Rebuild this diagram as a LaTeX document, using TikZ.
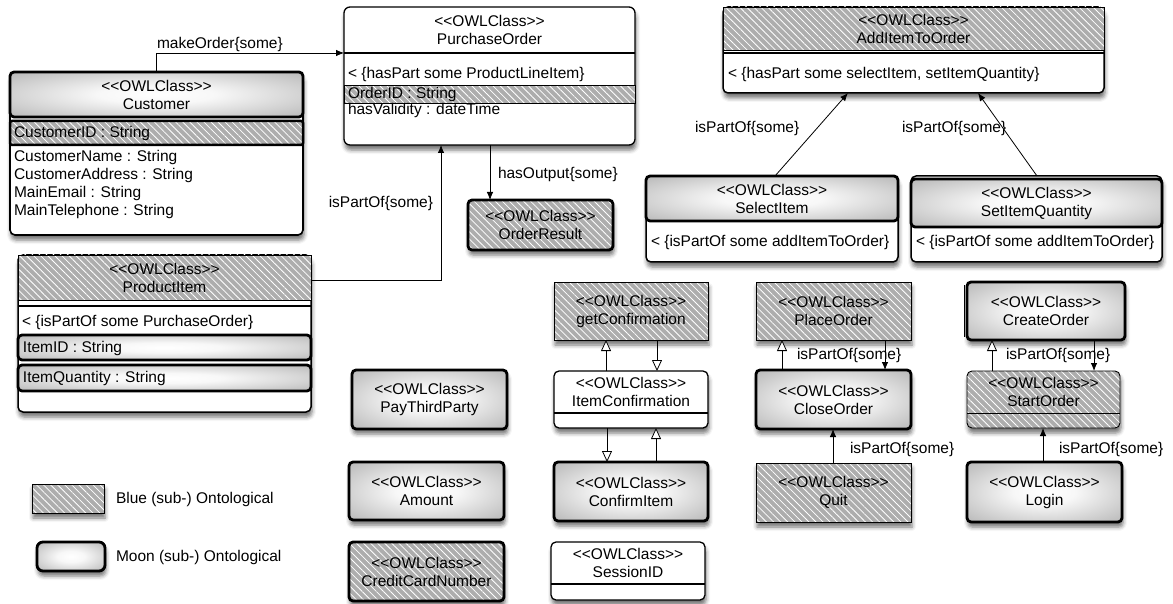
\documentclass[tikz,border=0pt]{standalone}
\usepackage{fontspec}
\setmainfont{Liberation Sans}
\usetikzlibrary{arrows.meta,patterns.meta,shadows.blur,calc}
\colorlet{hatchgray}{black!32}
\pgfdeclareradialshading{moonshade}{\pgfpoint{0bp}{0bp}}{color(0bp)=(white); color(10bp)=(white!97!black); color(50bp)=(black!42); color(75bp)=(black!50)}
\newcommand\owl{<{}<OWLClass>{}>}
\begin{document}
\begin{tikzpicture}[
 x=1pt,y=-1pt,
 every node/.style={font=\fontsize{15.5}{18}\selectfont, inner sep=0pt, outer sep=0pt},
 shad/.style={blur shadow={shadow xshift=1pt,shadow yshift=-5pt,shadow blur radius=4pt,shadow opacity=55}},
 boxat/.style n args={2}{anchor=north west, minimum width=#1, minimum height=#2},
 whitebox/.style={shad, draw, fill=white, rounded corners=5pt, line width=1.3pt},
 moon/.style={draw, shading=moonshade, rounded corners=4pt, line width=2.8pt},
 moonbox/.style={shad, moon},
 hatchfill/.style={preaction={fill=hatchgray}, pattern={Lines[angle=-45,distance=5pt,line width=0.8pt]}, pattern color=white},
 hatchrow/.style={hatchfill, draw, line width=0.9pt},
 hatch/.style={shad, hatchrow},
 hatchthick/.style={shad, hatchfill, draw, line width=2.8pt, rounded corners=4pt},
 title/.style={align=center},
 attr/.style={anchor=west},
 lbl/.style={anchor=west},
 arr/.style={-{Latex[length=8pt,width=6.5pt]}, line width=0.8pt},
 oarr/.style={-{Triangle[open,length=11pt,width=10pt,fill=white]}, line width=0.8pt},
]
\useasboundingbox (0,0) rectangle (1173,604);

% Customer
\node[whitebox, line width=1.6pt, boxat={293}{163}] (cust) at (10,72) {};
\node[moon, title, boxat={293}{45}] (custh) at (10,72) {\owl\\Customer};
\node[hatchfill, draw, line width=2.5pt, rounded corners=2pt, boxat={293}{24}] (custid) at (10,121) {};
\node[attr] (cid) at (14,133) {CustomerID : String};
\node[attr] (cname) at (14,157) {CustomerName : String};
\node[attr] (caddr) at (14,175) {CustomerAddress : String};
\node[attr] (cmail) at (14,193) {MainEmail : String};
\node[attr] (ctel) at (14,211) {MainTelephone : String};

% PurchaseOrder
\node[whitebox, rounded corners=6pt, boxat={291}{138}] (po) at (344,7) {};
\node[title] (poh) at (489.5,29.5) {\owl\\PurchaseOrder};
\draw[line width=1.1pt] (po.west |- 0,53) -- (po.east |- 0,53);
\node[attr] (pop) at (348,74) {< \{hasPart some ProductLineItem\}};
\node[hatchrow, boxat={291}{18}] (poid) at (344,85) {};
\node[attr] (poidt) at (348,94) {OrderID : String};
\node[attr] (poval) at (348,110) {hasValidity : dateTime};

% OrderResult
\node[hatchthick, title, boxat={145}{50}] (ores) at (468,200) {\owl\\OrderResult};

% ProductItem
\node[whitebox, line width=1.5pt, boxat={293}{157}] (pi) at (18,255) {};
\node[hatchrow, title, boxat={293}{45}] (pih) at (18,255) {\owl\\ProductItem};
\draw[line width=1.1pt] (pi.west |- 0,306) -- (pi.east |- 0,306);
\node[attr] (pip) at (22,322) {< \{isPartOf some PurchaseOrder\}};
\node[moon, boxat={293}{25}] (piid) at (18,335) {};
\node[attr] (piidt) at (23,348) {ItemID : String};
\node[moon, boxat={293}{26}] (piq) at (18,365) {};
\node[attr] (piqt) at (23,378) {ItemQuantity : String};

% AddItemToOrder
\node[whitebox, line width=1.5pt, boxat={381}{86}] (ai) at (723,7) {};
\node[hatchrow, title, boxat={381}{43}] (aih) at (723,7) {\owl\\AddItemToOrder};
\draw[line width=1.1pt] (ai.west |- 0,53) -- (ai.east |- 0,53);
\node[attr] (aip) at (728,74) {< \{hasPart some selectItem, setItemQuantity\}};

% SelectItem
\node[whitebox, line width=1.5pt, boxat={252}{86}] (si) at (646,176) {};
\node[moon, title, boxat={252}{45}] (sih) at (646,176) {\owl\\SelectItem};
\node[attr] (sip) at (651,242) {< \{isPartOf some addItemToOrder\}};

% SetItemQuantity
\node[whitebox, line width=1.5pt, boxat={251}{86}] (sq) at (911,176) {};
\node[moon, title, boxat={251}{48}] (sqh) at (911,179) {\owl\\SetItemQuantity};
\node[attr] (sqp) at (916,242) {< \{isPartOf some addItemToOrder\}};

% confirmation column
\node[hatch, title, boxat={154}{58}] (gc) at (554,282) {\owl\\getConfirmation};
\node[whitebox, boxat={154}{57}] (ic) at (554,371) {};
\node[title] (ict) at (631,392) {\owl\\ItemConfirmation};
\draw[line width=1.1pt] (ic.west |- 0,413) -- (ic.east |- 0,413);
\node[moonbox, title, boxat={154}{59}] (ci) at (554,462) {\owl\\ConfirmItem};
\node[whitebox, boxat={154}{58}] (sid) at (551,542) {};
\node[title] (sidt) at (628,563) {\owl\\SessionID};
\draw[line width=1.1pt] (sid.west |- 0,584) -- (sid.east |- 0,584);

% payment column
\node[moonbox, title, boxat={155}{59}] (ptp) at (352,370) {\owl\\PayThirdParty};
\node[moonbox, title, boxat={155}{58}] (amt) at (349,462) {\owl\\Amount};
\node[hatchthick, title, boxat={155}{59}] (ccn) at (349,542) {\owl\\CreditCardNumber};

% order columns
\node[hatch, title, boxat={155}{58}] (plo) at (756,282) {\owl\\PlaceOrder};
\node[moonbox, title, boxat={155}{59}] (clo) at (756,370) {\owl\\CloseOrder};
\node[hatch, title, boxat={155}{59}] (quit) at (756,463) {\owl\\Quit};
\node[moonbox, title, boxat={158}{58}] (cro) at (967,282) {\owl\\CreateOrder};
\draw[line width=1pt] ([xshift=-3pt,yshift=-3pt]cro.north west) -- ([xshift=-3pt,yshift=3pt]cro.south west);
\node[shad, hatchrow, rounded corners=5pt, boxat={153}{57}] (sto) at (967,371) {};
\node[title] (stot) at (1043.5,392) {\owl\\StartOrder};
\draw[line width=0.9pt] (sto.west |- 0,413) -- (sto.east |- 0,413);
\node[moonbox, title, boxat={155}{60}] (login) at (967,462) {\owl\\Login};

% legend
\node[hatch, boxat={72}{29}] (lgb) at (32,484) {};
\node[lbl] (lgbt) at (116,499) {Blue (sub-) Ontological};
\node[moonbox, rounded corners=6pt, boxat={68}{29}] (lgm) at (37,542) {};
\node[lbl] (lgmt) at (116,557) {Moon (sub-) Ontological};

% connectors
\coordinate (mkbend) at (cust.north |- 0,53);
\draw[arr] (cust.north) -- (mkbend) -- (po.west |- 0,53);
\node[lbl] (mklbl) at (157,44) {makeOrder\{some\}};

\coordinate (pibend) at (441,280);
\draw[arr] (pi.east |- pibend) -- (pibend) -- (po.south -| pibend);
\node[anchor=east] (pilbl) at (433,203) {isPartOf\{some\}};

\draw[arr] (po.south -| 490,0) -- (ores.north -| 490,0);
\node[lbl] (holbl) at (498,174) {hasOutput\{some\}};

\draw[arr] (si.north -| 775,0) -- (ai.south -| 848,0);
\node[lbl] (silbl) at (695,128) {isPartOf\{some\}};
\draw[arr] (sq.north -| 1037,0) -- (ai.south -| 978,0);
\node[lbl] (sqlbl) at (902,128) {isPartOf\{some\}};

\draw[oarr] (ic.north -| 606,0) -- (gc.south -| 606,0);
\draw[oarr] (gc.south -| 657,0) -- (ic.north -| 657,0);
\draw[oarr] (ic.south -| 607,0) -- (ci.north -| 607,0);
\draw[oarr] (ci.north -| 656,0) -- (ic.south -| 656,0);

\draw[oarr] (clo.north -| 782,0) -- (plo.south -| 782,0);
\draw[arr] (plo.south -| 885,0) -- (clo.north -| 885,0);
\node[lbl] (plolbl) at (797,355) {isPartOf\{some\}};
\draw[arr] (quit.north -| 833,0) -- (clo.south -| 833,0);
\node[lbl] (quitlbl) at (850,449) {isPartOf\{some\}};

\draw[oarr] (sto.north -| 992,0) -- (cro.south -| 992,0);
\draw[arr] (cro.south -| 1094,0) -- (sto.north -| 1094,0);
\node[lbl] (crolbl) at (1006,355) {isPartOf\{some\}};
\draw[arr] (login.north -| 1043,0) -- (sto.south -| 1043,0);
\node[lbl] (loginlbl) at (1059,449) {isPartOf\{some\}};
\end{tikzpicture}
\end{document}
